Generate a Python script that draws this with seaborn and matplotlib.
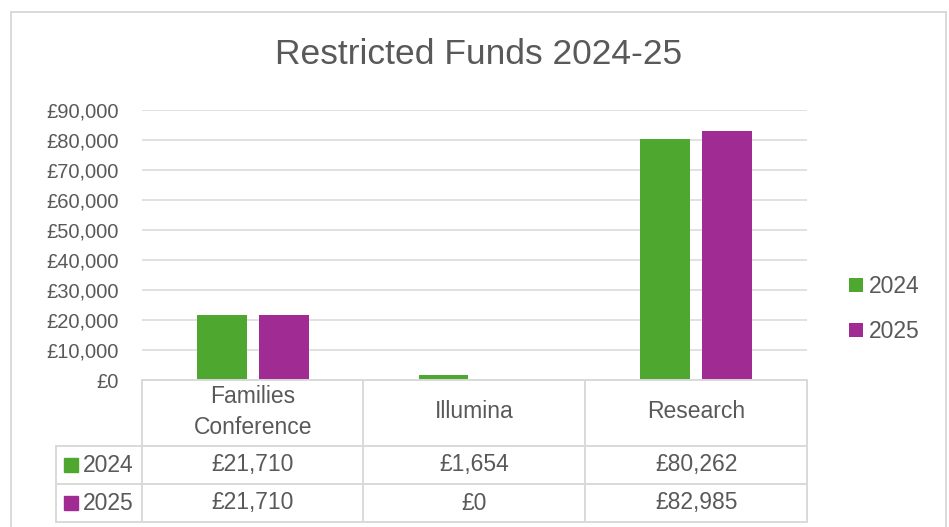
import numpy as np
import pandas as pd
import matplotlib.pyplot as plt
import seaborn as sns
from matplotlib.patches import Rectangle
from matplotlib.ticker import FuncFormatter, MultipleLocator

categories = ["Families Conference", "Illumina", "Research"]
header_labels = ["Families\nConference", "Illumina", "Research"]
years = ["2024", "2025"]
values_2024 = [21710, 1654, 80262]
values_2025 = [21710, 0, 82985]

green = "#4EA72E"
purple = "#A02B93"
grey_text = "#595959"
grey_line = "#D9D9D9"

sns.set_theme(style="white")
plt.rcParams["font.family"] = ["Liberation Sans", "DejaVu Sans"]

df = pd.DataFrame({
    "category": categories * 2,
    "year": [years[0]] * 3 + [years[1]] * 3,
    "value": values_2024 + values_2025,
})

W, H = 949, 527
fig = plt.figure(figsize=(W / 100, H / 100), dpi=100)
fig.patch.set_facecolor("white")

# chart frame (bottom runs off the canvas)
fig.patches.append(Rectangle((11 / W, -0.05), 935 / W, 1.05 - 12 / H,
                             transform=fig.transFigure, fill=False,
                             edgecolor=grey_line, lw=1.4))

x0, x1, y0, y1 = 142, 807, 110, 380
ax = fig.add_axes([x0 / W, 1 - y1 / H, (x1 - x0) / W, (y1 - y0) / H])

sns.barplot(data=df, x="category", y="value", hue="year",
            palette=[green, purple], width=0.56, gap=0.2,
            linewidth=0, saturation=1, ax=ax)

ax.set_ylim(0, 90000)
ax.set_xlim(-0.5, 2.5)
ax.yaxis.set_major_locator(MultipleLocator(10000))
ax.yaxis.set_major_formatter(FuncFormatter(lambda v, p: f"£{v:,.0f}"))
ax.grid(axis="y", color=grey_line, lw=1.1)
ax.set_axisbelow(True)
ax.tick_params(axis="y", length=0, pad=17, labelsize=14.5, labelcolor=grey_text)
ax.set_xticks([])
ax.set_xlabel("")
ax.set_ylabel("")
for s in ax.spines.values():
    s.set_visible(False)

sns.move_legend(ax, loc="center left", bbox_to_anchor=(849 / W, 1 - 309 / H),
                bbox_transform=fig.transFigure, frameon=False, title=None,
                fontsize=16.5, labelcolor=grey_text, handlelength=0.6,
                handleheight=0.6, handletextpad=0.25, labelspacing=0.95,
                borderpad=0, borderaxespad=0)

# data table under the plot, in axes fractions
def fx(px):
    return (px - x0) / (x1 - x0)

def fy(py):
    return (y1 - py) / (y1 - y0)

col_edges = [142, 363, 585, 807]
row_edges = [380, 446, 484, 522]
label_left = 56
lkw = dict(color=grey_line, lw=1.4, transform=ax.transAxes, clip_on=False)

ax.plot([fx(142), fx(807)], [fy(380)] * 2, **lkw)
for r in row_edges[1:]:
    ax.plot([fx(label_left), fx(807)], [fy(r)] * 2, **lkw)
for c in col_edges:
    ax.plot([fx(c)] * 2, [fy(380), fy(522)], **lkw)
ax.plot([fx(label_left)] * 2, [fy(446), fy(522)], **lkw)

tkw = dict(transform=ax.transAxes, ha="center", va="center",
           fontsize=16.5, color=grey_text, clip_on=False)
for i, lab in enumerate(header_labels):
    ax.text((i + 0.5) / 3, fy(412), lab, linespacing=1.45, **tkw)

rows = [values_2024, values_2025]
colors = [green, purple]
for j, (yr, vals, col) in enumerate(zip(years, rows, colors)):
    yc = (row_edges[j + 1] + row_edges[j + 2]) / 2
    for i, v in enumerate(vals):
        ax.text((i + 0.5) / 3, fy(yc), f"£{v:,}", **tkw)
    ax.add_patch(Rectangle((fx(64), fy(yc + 7)), 14 / (x1 - x0), 14 / (y1 - y0),
                           transform=ax.transAxes, color=col, clip_on=False))
    ax.text(fx(83), fy(yc), yr, transform=ax.transAxes, ha="left", va="center",
            fontsize=16.5, color=grey_text, clip_on=False)

fig.text(479 / W, 1 - 55 / H, "Restricted Funds 2024-25", ha="center",
         va="center", fontsize=25.5, color=grey_text)

fig.savefig("out.png", dpi=100)
